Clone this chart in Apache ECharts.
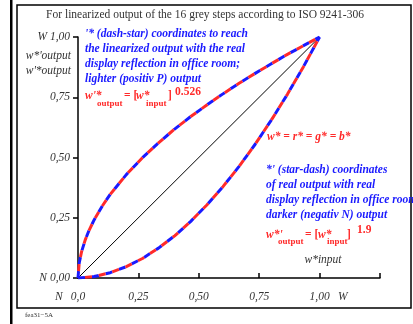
<!DOCTYPE html>
<html><head><meta charset="utf-8">
<script src="https://cdn.jsdelivr.net/npm/echarts@6/dist/echarts.min.js"></script>
<style>html,body{margin:0;padding:0;background:#fff}#c{width:413px;height:324px}</style>
</head><body><div id="c"></div>
<script>
// input w* (grey steps, with extra readings near black)
const xLighter = [0, 0.005, 0.015, 0.03, 0.045, 0.0667, 0.1, 0.1333, 0.2, 0.2667, 0.3333, 0.4, 0.4667, 0.5333, 0.6, 0.6667, 0.7333, 0.8, 0.8667, 0.9333, 1.0];
// lighter (positiv P) output, exponent 0.526
const yLighter = [0, 0.062, 0.110, 0.158, 0.196, 0.241, 0.298, 0.347, 0.429, 0.499, 0.561, 0.618, 0.670, 0.718, 0.764, 0.808, 0.849, 0.889, 0.928, 0.964, 1.0];
const xDarker = [0, 0.0667, 0.1333, 0.2, 0.2667, 0.3333, 0.4, 0.4667, 0.5333, 0.6, 0.6667, 0.7333, 0.8, 0.8667, 0.9333, 1.0];
// darker (negativ N) output, exponent 1.9
const yDarker = [0, 0.006, 0.022, 0.047, 0.081, 0.124, 0.175, 0.235, 0.303, 0.379, 0.463, 0.555, 0.655, 0.762, 0.877, 1.0];
const diagX = [0, 1.0];
const diagY = [0, 1.0];
const xTickLabels = {0: '0,0', 0.25: '0,25', 0.5: '0,50', 0.75: '0,75', 1: '1,00', 1.25: ''};
const yTickLabels = {0: 'N 0,00', 0.25: '0,25', 0.5: '0,50', 0.75: '0,75', 1: 'W 1,00'};

const serif = '"Liberation Serif","Times New Roman",serif';
const blue = '#1a1aff', red = '#ff2a2a', grey = '#333';
const pairs = (xs, ys) => xs.map((x, i) => [x, ys[i]]);

function dashed(data, color, offset) {
  return {type: 'line', data, symbol: 'none', silent: true, z: offset ? 4 : 3,
    lineStyle: {color, width: 3, type: [7, 7], dashOffset: offset, join: 'round'}};
}
function t(x, y, text, font, fill, align) {
  return {type: 'text', x, y, style: {text, font, fill, align: align || 'left', verticalAlign: 'middle'}};
}
const B = 'italic bold 11.5px ' + serif, BN = 'bold 11.5px ' + serif, SUB = 'bold 9px ' + serif, I = 'italic 11.5px ' + serif;
const chart = echarts.init(document.getElementById('c'), null, {renderer: 'canvas'});
chart.setOption({
  animation: false,
  grid: {left: 78, right: 33, top: 37, bottom: 46, containLabel: false},
  xAxis: {type: 'value', min: 0, max: 1.25, interval: 0.25,
    axisLine: {lineStyle: {color: '#000', width: 1.5}},
    axisTick: {inside: true, length: 5, lineStyle: {color: '#000', width: 1.5}},
    splitLine: {show: false},
    axisLabel: {margin: 13, color: grey, fontFamily: serif, fontStyle: 'italic', fontSize: 11.5,
      formatter: v => xTickLabels[v] ?? ''}},
  yAxis: {type: 'value', min: 0, max: 1, interval: 0.25,
    axisLine: {lineStyle: {color: '#000', width: 1.5}},
    axisTick: {length: 5, lineStyle: {color: '#000', width: 1.5}},
    splitLine: {show: false},
    axisLabel: {margin: 8, color: grey, fontFamily: serif, fontStyle: 'italic', fontSize: 11.5,
      formatter: v => yTickLabels[v] ?? ''}},
  series: [
    {type: 'line', data: pairs(diagX, diagY), symbol: 'none', silent: true, z: 2,
      lineStyle: {color: '#000', width: 1}},
    dashed(pairs(xLighter, yLighter), blue, 0),
    dashed(pairs(xLighter, yLighter), red, 7),
    dashed(pairs(xDarker, yDarker), blue, 0),
    dashed(pairs(xDarker, yDarker), red, 7)
  ],
  graphic: [
    {type: 'rect', shape: {x: 10, y: 0, width: 2.5, height: 324}, style: {fill: '#000'}},
    {type: 'rect', shape: {x: 17, y: 5, width: 394, height: 303}, style: {fill: 'none', stroke: '#000', lineWidth: 1.5}},
    t(25, 315, 'fea31−5A', '7px ' + serif, grey),
    t(205, 15, 'For linearized output of the 16 grey steps according to ISO 9241-306', '11.5px ' + serif, grey, 'center'),
    t(71, 56, "w*'output", I, grey, 'right'),
    t(71, 71, "w'*output", I, grey, 'right'),
    t(55, 297, 'N', I, grey),
    t(338, 297, 'W', I, grey),
    t(323, 260, 'w*input', I, grey, 'center'),
    {type: 'text', x: 85, y: 27, style: {text: "'* (dash-star) coordinates to reach\nthe linearized output with the real\ndisplay reflection in office room;\nlighter (positiv P) output", lineHeight: 15, fill: blue, font: B}},
    {type: 'text', x: 266, y: 163, style: {text: "*' (star-dash) coordinates\nof real output with real\ndisplay reflection in office room\ndarker (negativ N) output", lineHeight: 15, fill: blue, font: B}},
    t(267, 137, 'w* = r* = g* = b*', B, red),
    // formula 1
    t(85, 96, "w'*", B, red),
    t(97, 104, 'output', SUB, red),
    t(124, 96, '= [', BN, red),
    t(136, 96, 'w*', B, red),
    t(146, 104, 'input', SUB, red),
    t(168, 96, ']', BN, red),
    t(175, 92, '0.526', BN, red),
    // formula 2
    t(266, 235, "w*'", B, red),
    t(278, 242, 'output', SUB, red),
    t(305, 235, '= [', BN, red),
    t(318, 235, 'w*', B, red),
    t(327, 242, 'input', SUB, red),
    t(347, 235, ']', BN, red),
    t(357, 230, '1.9', BN, red)
  ]
});
</script></body></html>
